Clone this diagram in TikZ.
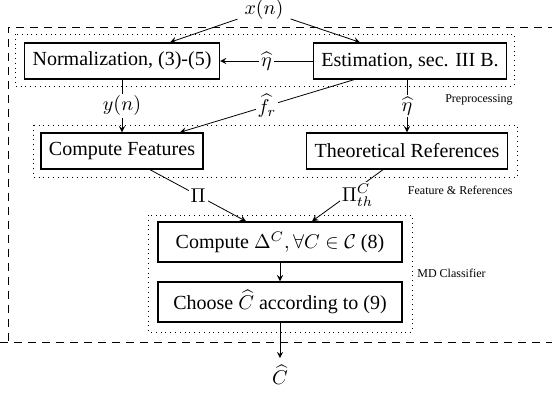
\documentclass[tikz,border=0pt]{standalone}
\usepackage{fontspec}
\setmainfont{Liberation Serif}
\begin{document}
\begin{tikzpicture}[x=0.5pt,y=-0.5pt,>=stealth,
box/.style={draw,line width=0.7pt,inner sep=4pt,minimum height=18pt},
grp/.style={dotted},
lbl/.style={font=\fontsize{6}{7}\selectfont,inner sep=0pt}]
\useasboundingbox(0,0)rectangle(552,394);
\node(xin)at(264,10){$x(n)$};
\node[box](norm)at(122,61){Normalization, (3)-(5)};
\node[box](est)at(410,61){Estimation, sec. III B.};
\node[box](feat)at(122,151){Compute Features};
\node[box](theo)at(407,151){Theoretical References};
\node[box,minimum width=122pt,minimum height=20pt](delta)at(280,242){Compute $\Delta^C, \forall C\in\mathcal{C}$ (8)};
\node[box,minimum width=122pt,minimum height=20pt](choose)at(280,302){Choose $\widehat{C}$ according to (9)};
\node(cout)at(280,375){$\widehat{C}$};
\draw[grp](15,34)rectangle(514,86);
\draw[grp](33,125)rectangle(517,177);
\draw[grp](148,215)rectangle(412,332);
\node[lbl,anchor=east]at(513,100){Preprocessing};
\node[lbl,anchor=east]at(513,190){Feature \& References};
\node[lbl,anchor=west]at(417,273){MD Classifier};
\draw[dash pattern=on 4pt off 3pt](570,27)--(8,27)--(8,342);
\draw[dash pattern=on 4pt off 3pt](0,342)--(570,342);
\draw[->](xin)--([xshift=24pt]norm.north);
\draw[->](xin)--([xshift=-25pt]est.north);
\draw[->](est)--node[fill=white,inner sep=1pt]{$\widehat{\eta}$}(norm);
\draw[->](norm)--node[fill=white,inner sep=1pt]{$y(n)$}(feat);
\draw[->]([xshift=-28pt]est.south)--node[fill=white,inner sep=1pt]{$\widehat{f}_r$}([xshift=29pt]feat.north);
\draw[->](est.south-|theo)--node[fill=white,inner sep=1pt]{$\widehat{\eta}$}(theo);
\draw[->]([xshift=14pt]feat.south)--node[fill=white,inner sep=1pt]{$\Pi$}([xshift=-17pt]delta.north);
\draw[->]([xshift=-12pt]theo.south)--node[fill=white,inner sep=1pt,xshift=5pt]{$\Pi_{th}^C$}([xshift=16pt]delta.north);
\draw[->](delta)--(choose);
\draw[->](choose)--(cout);
\end{tikzpicture}
\end{document}
